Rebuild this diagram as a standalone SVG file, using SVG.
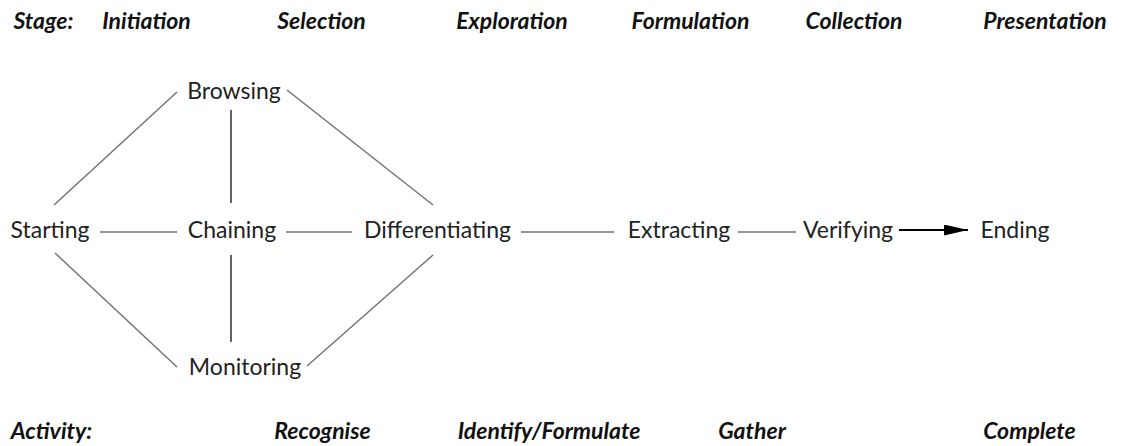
<svg xmlns="http://www.w3.org/2000/svg" width="1121" height="446" viewBox="0 0 1121 446">
<defs>
<style>
.hdr{font-family:Lato,"Open Sans","Liberation Sans",sans-serif;font-weight:bold;font-style:italic;font-size:23px;fill:#111;text-anchor:middle}
.lbl{font-family:Lato,"Open Sans","Liberation Sans",sans-serif;font-size:23px;fill:#222;text-anchor:middle}
.ln{stroke:#707070;stroke-width:1.4;fill:none}
.vl{stroke:#222;stroke-width:1.4;fill:none}
.ar{stroke:#000;stroke-width:2;fill:none}
</style>
<marker id="ah" viewBox="0 0 10 10" refX="10" refY="5" markerWidth="24" markerHeight="11" markerUnits="userSpaceOnUse" orient="auto" preserveAspectRatio="none">
<path d="M0,0 L10,5 L0,10 Z" fill="#000"/>
</marker>
</defs>
<rect width="1121" height="446" fill="#fff"/>
<g id="stages">
<text class="hdr" x="43.5" y="29">Stage:</text>
<text class="hdr" x="146.5" y="29">Initiation</text>
<text class="hdr" x="321.5" y="29">Selection</text>
<text class="hdr" x="512" y="29">Exploration</text>
<text class="hdr" x="690.5" y="29">Formulation</text>
<text class="hdr" x="854" y="29">Collection</text>
<text class="hdr" x="1045" y="29">Presentation</text>
</g>
<g id="activities">
<text class="hdr" x="51.5" y="439">Activity:</text>
<text class="hdr" x="322.5" y="439">Recognise</text>
<text class="hdr" x="549" y="439">Identify/Formulate</text>
<text class="hdr" x="752" y="439">Gather</text>
<text class="hdr" x="1029.5" y="439">Complete</text>
</g>
<g id="connectors">
<line class="ln" x1="54" y1="205" x2="177" y2="92"/>
<line class="ln" x1="287" y1="90" x2="433" y2="205"/>
<line class="ln" x1="55" y1="253" x2="177" y2="367"/>
<line class="ln" x1="307" y1="366" x2="433" y2="255"/>
<line class="vl" x1="231" y1="110" x2="231" y2="203"/>
<line class="vl" x1="231" y1="255" x2="231" y2="342"/>
<line class="ln" x1="100" y1="232" x2="177" y2="232"/>
<line class="ln" x1="286" y1="232" x2="352" y2="232"/>
<line class="ln" x1="521" y1="232" x2="614" y2="232"/>
<line class="ln" x1="738" y1="232" x2="796" y2="232"/>
<line class="ar" x1="899" y1="230" x2="968" y2="230" marker-end="url(#ah)"/>
</g>
<g id="node-starting"><text class="lbl" x="50" y="238">Starting</text></g>
<g id="node-browsing"><text class="lbl" x="234" y="99">Browsing</text></g>
<g id="node-chaining"><text class="lbl" x="232" y="238">Chaining</text></g>
<g id="node-monitoring"><text class="lbl" x="245" y="375">Monitoring</text></g>
<g id="node-differentiating"><text class="lbl" x="437.5" y="238">Differentiating</text></g>
<g id="node-extracting"><text class="lbl" x="679" y="238">Extracting</text></g>
<g id="node-verifying"><text class="lbl" x="848" y="238">Verifying</text></g>
<g id="node-ending"><text class="lbl" x="1015" y="238">Ending</text></g>
</svg>
